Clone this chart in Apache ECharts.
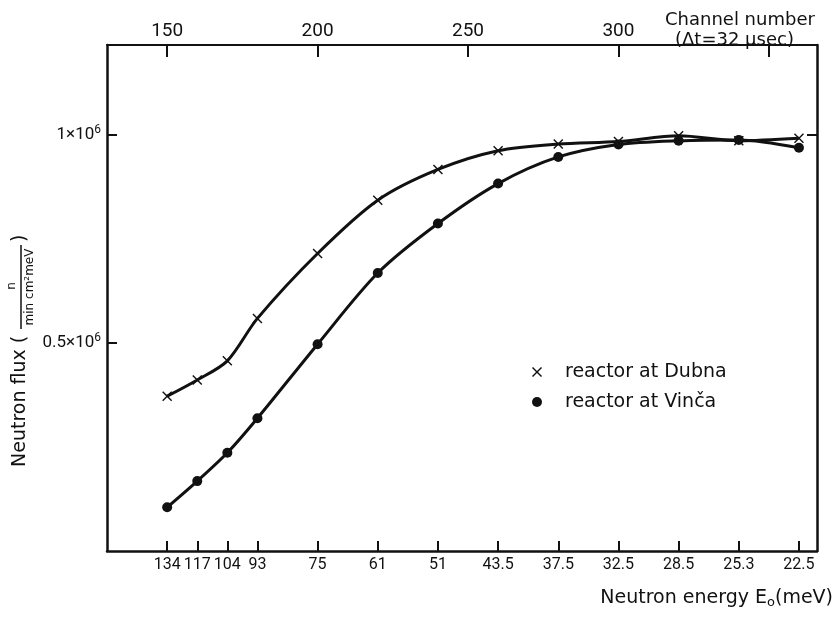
<!DOCTYPE html>
<html>
<head>
<meta charset="utf-8">
<script src="https://cdn.jsdelivr.net/npm/echarts@6/dist/echarts.min.js"></script>
<style>
  html, body { margin: 0; padding: 0; background: #fff; }
  #chart { width: 837px; height: 617px; }
</style>
</head>
<body>
<div id="chart"></div>
<script>
// channel numbers of the measured points (bottom axis ticks too)
const channels = [150, 160, 170, 180, 200, 220, 240, 260, 280, 300, 320, 340, 360]
// neutron energy labels for those channels (meV)
const energyLabels = ['134', '117', '104', '93', '75', '61', '51', '43.5', '37.5', '32.5', '28.5', '25.3', '22.5']
// neutron flux, n/(min cm2 meV)
const dubna = [372000, 411000, 457000, 559000, 715000, 843000, 917000, 962000, 978000, 984000, 998000, 986000, 992000]
const vinca = [105000, 168000, 236000, 319000, 497000, 668000, 787000, 883000, 947000, 977000, 986000, 988000, 969000]
// top axis
const topTicks = [150, 200, 250, 300, 350]
const topLabels = [150, 200, 250, 300]
const fluxTicks = [500000, 1000000]

const font = '"DejaVu Sans", sans-serif'
const digits = 'Roboto, "Liberation Sans", sans-serif'
const ink = '#111'
const crossPath = 'path://M0,1L1,0L5,4L9,0L10,1L6,5L10,9L9,10L5,6L1,10L0,9L4,5Z'

const chart = echarts.init(document.getElementById('chart'))

const option = {
    backgroundColor: '#fff',
    animation: false,
    textStyle: { fontFamily: font, color: ink },
    grid: { left: 107, right: 20, top: 45, bottom: 66 },
    legend: {
        orient: 'vertical',
        left: 532,
        top: 362,
        itemWidth: 10,
        itemHeight: 10,
        itemGap: 10,
        padding: 0,
        textStyle: { fontSize: 19, color: ink, fontFamily: font, lineHeight: 20, padding: [0, 0, 0, 18] },
        data: [
            { name: 'reactor at Dubna', icon: crossPath },
            { name: 'reactor at Vinča', icon: 'circle' }
        ]
    },
    xAxis: [
        {
            type: 'value',
            min: 130,
            max: 366,
            position: 'bottom',
            axisLine: { onZero: false, lineStyle: { color: ink, width: 2.5 } },
            axisTick: {
                inside: true, length: 10, customValues: channels,
                lineStyle: { color: ink, width: 2 }
            },
            axisLabel: {
                customValues: channels,
                showMinLabel: true,
                showMaxLabel: true,
                hideOverlap: false,
                fontSize: 16,
                fontFamily: digits,
                color: ink,
                margin: 6,
                formatter: v => energyLabels[channels.indexOf(v)]
            },
            splitLine: { show: false }
        },
        {
            type: 'value',
            min: 130,
            max: 366,
            position: 'top',
            axisLine: { onZero: false, lineStyle: { color: ink, width: 2 } },
            axisTick: {
                inside: true, length: 12, customValues: topTicks,
                lineStyle: { color: ink, width: 2 }
            },
            axisLabel: { customValues: topLabels, showMinLabel: true, fontSize: 19, fontFamily: digits, color: ink, margin: 4 },
            splitLine: { show: false }
        }
    ],
    yAxis: [
        {
            type: 'value',
            min: 0,
            max: 1216000,
            position: 'left',
            axisLine: { show: true, onZero: false, lineStyle: { color: ink, width: 2.5 } },
            axisTick: {
                inside: true, length: 10, customValues: fluxTicks,
                lineStyle: { color: ink, width: 2 }
            },
            axisLabel: {
                customValues: fluxTicks,
                margin: 6,
                formatter: v => (v === 1000000 ? '{a|1×10}{s|6}' : '{a|0.5×10}{s|6}'),
                rich: {
                    a: { fontSize: 17, lineHeight: 22, color: ink, fontFamily: digits },
                    s: { fontSize: 12, lineHeight: 12, verticalAlign: 'top', color: ink, fontFamily: digits }
                }
            },
            splitLine: { show: false }
        },
        {
            type: 'value',
            min: 0,
            max: 1216000,
            position: 'right',
            axisLine: { show: true, onZero: false, lineStyle: { color: ink, width: 2.5 } },
            axisTick: {
                inside: true, length: 10, customValues: [1000000],
                lineStyle: { color: ink, width: 2 }
            },
            axisLabel: { show: false },
            splitLine: { show: false }
        }
    ],
    series: [
        {
            name: 'reactor at Dubna',
            type: 'line',
            smooth: 0.3,
            symbol: crossPath,
            symbolSize: 10,
            data: channels.map((c, i) => [c, dubna[i]]),
            lineStyle: { color: ink, width: 3 },
            itemStyle: { color: ink }
        },
        {
            name: 'reactor at Vinča',
            type: 'line',
            smooth: 0.3,
            symbol: 'circle',
            symbolSize: 10,
            data: channels.map((c, i) => [c, vinca[i]]),
            lineStyle: { color: ink, width: 3 },
            itemStyle: { color: ink }
        }
    ],
    graphic: [
        {
            type: 'text', left: 665, top: 11,
            style: { text: 'Channel number', font: '18px ' + font, fill: ink }
        },
        {
            type: 'text', left: 675, top: 31,
            style: { text: '(Δt=32 μsec)', font: '18px ' + font, fill: ink }
        },
        {
            type: 'text', right: 4, top: 589,
            style: {
                text: '{a|Neutron energy E}{b|o}{a|(meV)}',
                rich: {
                    a: { fontSize: 19, fontFamily: font, fill: ink, lineHeight: 22 },
                    b: { fontSize: 13, fontFamily: font, fill: ink, lineHeight: 12, verticalAlign: 'bottom' }
                }
            }
        },
        {
            type: 'group',
            x: 20,
            y: 467,
            rotation: Math.PI / 2,
            children: [
                { type: 'text', x: 0, y: 0, style: { text: 'Neutron flux (', font: '19px ' + font, fill: ink, align: 'left', verticalAlign: 'middle' } },
                { type: 'text', x: 181, y: -8, style: { text: 'n', font: '12px ' + font, fill: ink, align: 'center', verticalAlign: 'middle' } },
                { type: 'line', shape: { x1: 138, y1: 1, x2: 222, y2: 1 }, style: { stroke: ink, lineWidth: 1.5 } },
                { type: 'text', x: 180, y: 10, style: { text: 'min cm²meV', font: '12px ' + font, fill: ink, align: 'center', verticalAlign: 'middle' } },
                { type: 'text', x: 225, y: 0, style: { text: ')', font: '19px ' + font, fill: ink, align: 'left', verticalAlign: 'middle' } }
            ]
        }
    ]
}

chart.setOption(option)
</script>
</body>
</html>
